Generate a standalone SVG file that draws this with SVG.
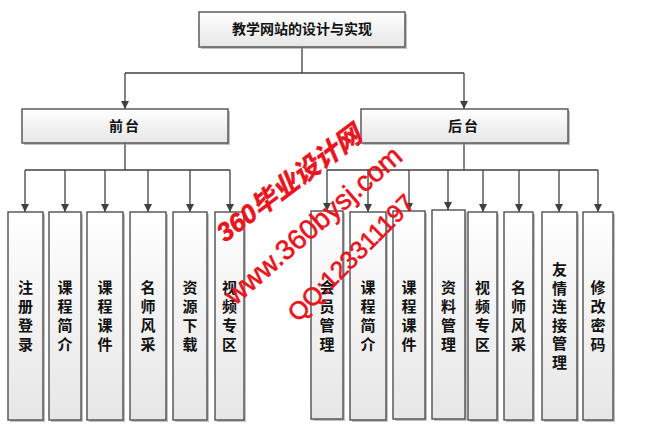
<svg xmlns="http://www.w3.org/2000/svg" width="646" height="443" viewBox="0 0 646 443">
<defs>
<linearGradient id="g" x1="0" y1="0" x2="0" y2="1">
<stop offset="0" stop-color="#ffffff"/>
<stop offset="1" stop-color="#e6e6e6"/>
</linearGradient>
<marker id="arr" viewBox="0 0 10 10" refX="10" refY="5" markerWidth="8" markerHeight="8" markerUnits="userSpaceOnUse" orient="auto">
<path d="M0,0 L10,5 L0,10 z" fill="#404040"/>
</marker>
</defs>
<style>
.box{fill:url(#g);stroke:#505050;stroke-width:1.4}
.sh{fill:#9a9a9a;opacity:0.6}
.t{font-family:"Liberation Serif","Noto Sans CJK SC",serif;font-weight:bold;fill:#111;text-anchor:middle;dominant-baseline:central}
.tt{font-size:14px}
.tl{font-size:15px}
.c{fill:none;stroke:#404040;stroke-width:1.3}
.wm{font-family:"Liberation Sans","Noto Sans CJK SC",sans-serif;fill:#e8141e;stroke:#e8141e;stroke-width:0.6}
</style>
<rect width="646" height="443" fill="#ffffff"/>

<g id="connectors">
<path class="c" d="M302,47 V73 M125,73 H464"/>
<path class="c" d="M125,73 V109" marker-end="url(#arr)"/>
<path class="c" d="M464,73 V109" marker-end="url(#arr)"/>
<path class="c" d="M125,143 V170 M25,170 H230"/>
<path class="c" d="M25,170 V212" marker-end="url(#arr)"/>
<path class="c" d="M65,170 V212" marker-end="url(#arr)"/>
<path class="c" d="M105,170 V212" marker-end="url(#arr)"/>
<path class="c" d="M148,170 V212" marker-end="url(#arr)"/>
<path class="c" d="M190,170 V212" marker-end="url(#arr)"/>
<path class="c" d="M230,170 V212" marker-end="url(#arr)"/>
<path class="c" d="M464,143 V170 M327,170 H598"/>
<path class="c" d="M327,170 V211" marker-end="url(#arr)"/>
<path class="c" d="M368,170 V212" marker-end="url(#arr)"/>
<path class="c" d="M409,170 V211" marker-end="url(#arr)"/>
<path class="c" d="M448,170 V210" marker-end="url(#arr)"/>
<path class="c" d="M483,170 V212" marker-end="url(#arr)"/>
<path class="c" d="M519,170 V212" marker-end="url(#arr)"/>
<path class="c" d="M559,170 V212" marker-end="url(#arr)"/>
<path class="c" d="M598,170 V212" marker-end="url(#arr)"/>
</g>

<g id="root">
<rect class="sh" x="201" y="14" width="206" height="35"/>
<rect class="box" x="199" y="12" width="206" height="35"/>
<text class="t tt" x="302" y="29.5">教学网站的设计与实现</text>
</g>

<g id="front">
<rect class="sh" x="24" y="111" width="206" height="34"/>
<rect class="box" x="22" y="109" width="206" height="34"/>
<text class="t tt" x="125" y="126" letter-spacing="2">前台</text>
</g>

<g id="back">
<rect class="sh" x="363" y="111" width="207" height="34"/>
<rect class="box" x="361" y="109" width="207" height="34"/>
<text class="t tt" x="464" y="126" letter-spacing="2">后台</text>
</g>

<g id="f1">
<rect class="sh" x="10" y="214" width="35" height="208"/>
<rect class="box" x="8" y="212" width="35" height="208"/>
<text class="t tl" x="25.5"><tspan x="25.5" y="288">注</tspan><tspan x="25.5" y="307">册</tspan><tspan x="25.5" y="326">登</tspan><tspan x="25.5" y="345">录</tspan></text>
</g>
<g id="f2">
<rect class="sh" x="51" y="214" width="32" height="208"/>
<rect class="box" x="49" y="212" width="32" height="208"/>
<text class="t tl"><tspan x="65" y="288">课</tspan><tspan x="65" y="307">程</tspan><tspan x="65" y="326">简</tspan><tspan x="65" y="345">介</tspan></text>
</g>
<g id="f3">
<rect class="sh" x="89" y="214" width="36" height="208"/>
<rect class="box" x="87" y="212" width="36" height="208"/>
<text class="t tl"><tspan x="105" y="288">课</tspan><tspan x="105" y="307">程</tspan><tspan x="105" y="326">课</tspan><tspan x="105" y="345">件</tspan></text>
</g>
<g id="f4">
<rect class="sh" x="132" y="214" width="36" height="208"/>
<rect class="box" x="130" y="212" width="36" height="208"/>
<text class="t tl"><tspan x="148" y="288">名</tspan><tspan x="148" y="307">师</tspan><tspan x="148" y="326">风</tspan><tspan x="148" y="345">采</tspan></text>
</g>
<g id="f5">
<rect class="sh" x="175" y="214" width="34" height="208"/>
<rect class="box" x="173" y="212" width="34" height="208"/>
<text class="t tl"><tspan x="190" y="288">资</tspan><tspan x="190" y="307">源</tspan><tspan x="190" y="326">下</tspan><tspan x="190" y="345">载</tspan></text>
</g>
<g id="f6">
<rect class="sh" x="217" y="214" width="29" height="208"/>
<rect class="box" x="215" y="212" width="29" height="208"/>
<text class="t tl"><tspan x="229.5" y="288">视</tspan><tspan x="229.5" y="307">频</tspan><tspan x="229.5" y="326">专</tspan><tspan x="229.5" y="345">区</tspan></text>
</g>

<g id="b1">
<rect class="sh" x="313" y="213" width="32" height="208"/>
<rect class="box" x="311" y="211" width="32" height="208"/>
<text class="t tl"><tspan x="327" y="288">会</tspan><tspan x="327" y="307">员</tspan><tspan x="327" y="326">管</tspan><tspan x="327" y="345">理</tspan></text>
</g>
<g id="b2">
<rect class="sh" x="352" y="214" width="36" height="208"/>
<rect class="box" x="350" y="212" width="36" height="208"/>
<text class="t tl"><tspan x="368" y="288">课</tspan><tspan x="368" y="307">程</tspan><tspan x="368" y="326">简</tspan><tspan x="368" y="345">介</tspan></text>
</g>
<g id="b3">
<rect class="sh" x="395" y="213" width="32" height="208"/>
<rect class="box" x="393" y="211" width="32" height="208"/>
<text class="t tl"><tspan x="409" y="288">课</tspan><tspan x="409" y="307">程</tspan><tspan x="409" y="326">课</tspan><tspan x="409" y="345">件</tspan></text>
</g>
<g id="b4">
<rect class="sh" x="434" y="212" width="33" height="209"/>
<rect class="box" x="432" y="210" width="33" height="209"/>
<text class="t tl"><tspan x="448.5" y="288">资</tspan><tspan x="448.5" y="307">料</tspan><tspan x="448.5" y="326">管</tspan><tspan x="448.5" y="345">理</tspan></text>
</g>
<g id="b5">
<rect class="sh" x="470" y="214" width="29" height="208"/>
<rect class="box" x="468" y="212" width="29" height="208"/>
<text class="t tl"><tspan x="482.5" y="288">视</tspan><tspan x="482.5" y="307">频</tspan><tspan x="482.5" y="326">专</tspan><tspan x="482.5" y="345">区</tspan></text>
</g>
<g id="b6">
<rect class="sh" x="506" y="214" width="29" height="208"/>
<rect class="box" x="504" y="212" width="29" height="208"/>
<text class="t tl"><tspan x="518.5" y="288">名</tspan><tspan x="518.5" y="307">师</tspan><tspan x="518.5" y="326">风</tspan><tspan x="518.5" y="345">采</tspan></text>
</g>
<g id="b7">
<rect class="sh" x="544" y="214" width="35" height="208"/>
<rect class="box" x="542" y="212" width="35" height="208"/>
<text class="t tl"><tspan x="559.5" y="270">友</tspan><tspan x="559.5" y="288.6">情</tspan><tspan x="559.5" y="307.2">连</tspan><tspan x="559.5" y="325.8">接</tspan><tspan x="559.5" y="344.4">管</tspan><tspan x="559.5" y="363">理</tspan></text>
</g>
<g id="b8">
<rect class="sh" x="585" y="214" width="30" height="208"/>
<rect class="box" x="583" y="212" width="30" height="208"/>
<text class="t tl"><tspan x="598" y="288">修</tspan><tspan x="598" y="307">改</tspan><tspan x="598" y="326">密</tspan><tspan x="598" y="345">码</tspan></text>
</g>

<g id="watermark">
<text class="wm" font-size="26" font-weight="bold" font-style="italic" stroke-width="0" transform="translate(225,243) rotate(-37)">360毕业设计网</text>
<text class="wm" font-size="28" transform="translate(235,306) rotate(-41)">www.360bysj.com</text>
<text class="wm" font-size="25" transform="translate(298,323) rotate(-45)">QQ:123311197</text>
</g>
</svg>
